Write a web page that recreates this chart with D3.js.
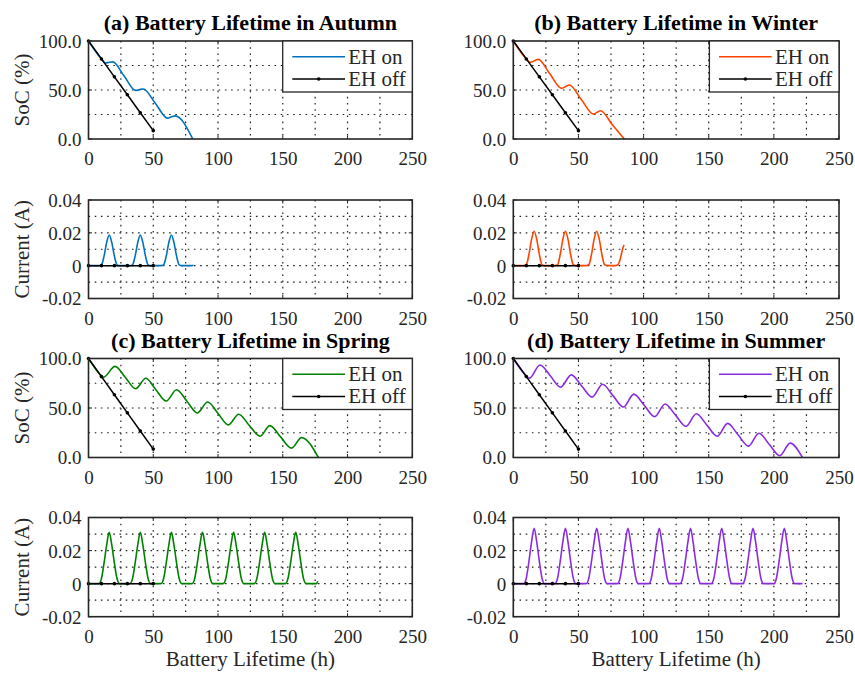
<!DOCTYPE html>
<html><head><meta charset="utf-8">
<script src="https://cdn.jsdelivr.net/npm/d3@7"></script>
<style>body{margin:0;background:#fff}svg{display:block}text{font-family:"Liberation Serif","Tinos","Times New Roman","DejaVu Serif",serif}</style>
</head><body>
<svg id="chart" width="855" height="673"></svg>
<script>
// ---------------- data ----------------
const seasons = ["Autumn", "Winter", "Spring", "Summer"];
const panelLetters = ["(a)", "(b)", "(c)", "(d)"];
const seasonColors = ["#0072BD", "#FF4500", "#008000", "#8A2BE2"];
const legendLabels = ["EH on", "EH off"];

const xTicks = [0, 50, 100, 150, 200, 250];
const xGrid = [25, 50, 75, 100, 125, 150, 175, 200, 225];
const socTicks = [0, 50, 100];
const socTickLabels = ["0.0", "50.0", "100.0"];
const socGrid = [25, 50, 75];
const curTicks = [-0.02, 0, 0.02, 0.04];
const curTickLabels = ["-0.02", "0", "0.02", "0.04"];
const curGrid = [-0.01, 0, 0.01, 0.02, 0.03];

// EH off (same in every season)
const offHours = [0, 10, 20, 30, 40, 50];
const offSoc = [100, 81.7, 63.4, 45.1, 26.8, 8.5];
const offCurrent = [0, 0, 0, 0, 0, 0];

// SoC with EH on (key points)
const autumnSocHours = [0, 10, 13, 16, 18.8, 27.5, 36.3, 39.5, 42.3, 51.7, 61, 64, 67, 80.5];
const autumnSoc = [100, 81.7, 77.5, 78.3, 78.7, 64.2, 49.6, 50.5, 51, 36.2, 21.3, 22.6, 23.6, 0];
const winterSocHours = [0, 10, 12.8, 19.2, 28, 37.1, 43, 52.2, 61.4, 67, 76, 85.2];
const winterSoc = [100, 81.7, 78.2, 81.3, 66.5, 51.7, 55.1, 40.3, 25.5, 28.9, 14.5, 0];
const springSocHours = [0, 8, 11.5, 20.5, 28.5, 36.4, 44.2, 52, 60, 68, 76, 84, 92, 100, 108, 116, 124, 132.5, 140, 148.3, 156.7, 164.5, 177.5];
const springSoc = [100, 85.4, 81, 92, 80.8, 69.5, 80, 68.5, 57, 68.5, 56.8, 45, 56, 44.5, 33, 43.7, 32.6, 21.5, 32.2, 20.8, 9.5, 20.1, 0];
const summerSocHours = [0, 8, 12.3, 20.5, 28.5, 36.3, 44.5, 52.5, 60.5, 68.5, 76.5, 84.5, 92.5, 100.5, 108.5, 116.5, 124.5, 132.5, 140.5, 148.5, 156.5, 164.5, 172.5, 180.5, 188.5, 196.5, 204.5, 212.5, 222];
const summerSoc = [100, 85.4, 80, 93.5, 82.3, 71, 83.5, 72.3, 61, 74, 62.5, 51, 64, 52.7, 41.3, 54, 42.8, 31.5, 44.2, 32.9, 21.5, 34.5, 23, 11.5, 24.5, 13.2, 1.8, 14.5, 0];

// Harvested current with EH on, sampled every 2 h
const currentHours = [0,2,4,6,8,10,12,14,16,18,20,22,24,26,28,30,32,34,36,38,40,42,44,46,48,50,52,54,56,58,60,62,64,66,68,70,72,74,76,78,80,82,84,86,88,90,92,94,96,98,100,102,104,106,108,110,112,114,116,118,120,122,124,126,128,130,132,134,136,138,140,142,144,146,148,150,152,154,156,158,160,162,164,166,168,170,172,174,176,178,180,182,184,186,188,190,192,194,196,198,200,202,204,206,208,210,212,214,216,218,220,222];
const autumnCurrent = [
 0,0,0,0,0,0.0005,0.0058,0.0140,0.0187,0.0140,0.0058,0.0005,
 0,0,0,0,0,0.0005,0.0058,0.0140,0.0187,0.0140,0.0058,0.0005,
 0,0,0,0,0,0.0005,0.0058,0.0140,0.0187,0.0140,0.0058,0.0005,
 0,0,0,0,0];
const autumnCurrentEnd = [81, 0.0003];
const winterCurrent = [
 0,0,0,0,0,0.0006,0.0068,0.0160,0.0210,0.0160,0.0068,0.0006,
 0,0,0,0,0,0.0006,0.0068,0.0160,0.0210,0.0160,0.0068,0.0006,
 0,0,0,0,0,0.0006,0.0068,0.0160,0.0210,0.0160,0.0068,0.0006,
 0,0,0,0,0.0004,0.0038,0.0104];
const winterCurrentEnd = [85, 0.0126];
const springCurrent = [
 0,0,0,0,0,0.0031,0.0124,0.0233,0.0310,0.0233,0.0124,0.0031,
 0,0,0,0,0,0.0031,0.0124,0.0233,0.0310,0.0233,0.0124,0.0031,
 0,0,0,0,0,0.0031,0.0124,0.0233,0.0310,0.0233,0.0124,0.0031,
 0,0,0,0,0,0.0031,0.0124,0.0233,0.0310,0.0233,0.0124,0.0031,
 0,0,0,0,0,0.0031,0.0124,0.0233,0.0310,0.0233,0.0124,0.0031,
 0,0,0,0,0,0.0031,0.0124,0.0233,0.0310,0.0233,0.0124,0.0031,
 0,0,0,0,0,0.0031,0.0124,0.0233,0.0310,0.0233,0.0124,0.0031,
 0,0,0,0,0];
const springCurrentEnd = [177, 0.0015];
const summerCurrent = [
 0,0,0,0,0,0.0034,0.0134,0.0251,0.0335,0.0251,0.0134,0.0034,
 0,0,0,0,0,0.0034,0.0134,0.0251,0.0335,0.0251,0.0134,0.0034,
 0,0,0,0,0,0.0034,0.0134,0.0251,0.0335,0.0251,0.0134,0.0034,
 0,0,0,0,0,0.0034,0.0134,0.0251,0.0335,0.0251,0.0134,0.0034,
 0,0,0,0,0,0.0034,0.0134,0.0251,0.0335,0.0251,0.0134,0.0034,
 0,0,0,0,0,0.0034,0.0134,0.0251,0.0335,0.0251,0.0134,0.0034,
 0,0,0,0,0,0.0034,0.0134,0.0251,0.0335,0.0251,0.0134,0.0034,
 0,0,0,0,0,0.0034,0.0134,0.0251,0.0335,0.0251,0.0134,0.0034,
 0,0,0,0,0,0.0034,0.0134,0.0251,0.0335,0.0251,0.0134,0.0034,
 0,0,0,0];
const summerCurrentEnd = [222, 0];

// ---------------- layout ----------------
const socHoursAll = [autumnSocHours, winterSocHours, springSocHours, summerSocHours];
const socAll = [autumnSoc, winterSoc, springSoc, summerSoc];
const curAll = [autumnCurrent, winterCurrent, springCurrent, summerCurrent];
const curEndAll = [autumnCurrentEnd, winterCurrentEnd, springCurrentEnd, summerCurrentEnd];

const cols = [[88.5, 412.3], [513.3, 839]];
const socRows = [[41, 139], [358.5, 457.5]];
const curRows = [[200, 298.5], [517.5, 616.7]];
const FONT = "Liberation Serif, Tinos, Times New Roman, DejaVu Serif, serif";
const AX = "#262626";

const svg = d3.select("#chart");

function makeAxes(g, x, y, yTicks, yLabels, yGrid, x0, x1, y0, y1) {
  const grid = g.append("g").attr("stroke", "#222").attr("stroke-width", 1.2)
    .attr("stroke-dasharray", "1.6 4.6");
  xGrid.forEach(v => grid.append("line").attr("x1", x(v)).attr("x2", x(v)).attr("y1", y0).attr("y2", y1));
  yGrid.forEach(v => grid.append("line").attr("x1", x0).attr("x2", x1).attr("y1", y(v)).attr("y2", y(v)));
  const xa = g.append("g").attr("transform", `translate(0,${y1})`)
    .call(d3.axisBottom(x).tickValues(xTicks).tickSize(0).tickPadding(0).tickFormat(d3.format("d")));
  xa.attr("font-family", FONT);
  xa.select(".domain").remove();
  xa.selectAll("text").attr("font-family", FONT).attr("font-size", 19).attr("fill", AX)
    .attr("dy", null).attr("y", 26);
  const ya = g.append("g").attr("transform", `translate(${x0},0)`)
    .call(d3.axisLeft(y).tickValues(yTicks).tickSize(0).tickPadding(7).tickFormat((d, i) => yLabels[i]));
  ya.attr("font-family", FONT);
  ya.select(".domain").remove();
  ya.selectAll("text").attr("font-family", FONT).attr("font-size", 19).attr("fill", AX).attr("dy", "0.34em");
  const tk = g.append("g").attr("stroke", AX).attr("stroke-width", 1);
  xTicks.forEach(v => {
    tk.append("line").attr("x1", x(v)).attr("x2", x(v)).attr("y1", y1).attr("y2", y1 - 3.5);
    tk.append("line").attr("x1", x(v)).attr("x2", x(v)).attr("y1", y0).attr("y2", y0 + 3.5);
  });
  yTicks.forEach(v => {
    tk.append("line").attr("x1", x0).attr("x2", x0 + 3.5).attr("y1", y(v)).attr("y2", y(v));
    tk.append("line").attr("x1", x1).attr("x2", x1 - 3.5).attr("y1", y(v)).attr("y2", y(v));
  });
}

function frame(g, x0, x1, y0, y1) {
  g.append("rect").attr("x", x0).attr("y", y0).attr("width", x1 - x0).attr("height", y1 - y0)
    .attr("fill", "none").attr("stroke", AX).attr("stroke-width", 1.6);
}

seasons.forEach((season, i) => {
  const col = cols[i % 2];
  const row = Math.floor(i / 2);
  const [x0, x1] = col;
  const color = seasonColors[i];
  const x = d3.scaleLinear().domain([0, 250]).range([x0, x1]);

  // ---------- SoC panel ----------
  const [sy0, sy1] = socRows[row];
  const ys = d3.scaleLinear().domain([0, 100]).range([sy1, sy0]);
  const gs = svg.append("g");
  makeAxes(gs, x, ys, socTicks, socTickLabels, socGrid, x0, x1, sy0, sy1);
  const socOn = socHoursAll[i].map((h, k) => [h, socAll[i][k]]);
  const socOff = offHours.map((h, k) => [h, offSoc[k]]);
  const lineS = d3.line().x(d => x(d[0])).y(d => ys(d[1])).curve(d3.curveMonotoneX);
  gs.append("path").attr("d", lineS(socOn)).attr("fill", "none").attr("stroke", color).attr("stroke-width", 1.6);
  gs.append("path").attr("d", d3.line().x(d => x(d[0])).y(d => ys(d[1]))(socOff))
    .attr("fill", "none").attr("stroke", "#000").attr("stroke-width", 1.5);
  gs.selectAll(".mk").data(socOff).enter().append("circle")
    .attr("cx", d => x(d[0])).attr("cy", d => ys(d[1])).attr("r", 1.8).attr("fill", "#000");
  frame(gs, x0, x1, sy0, sy1);
  gs.append("text").attr("x", (x0 + x1) / 2).attr("y", sy0 - 11).attr("text-anchor", "middle")
    .attr("font-family", FONT).attr("font-weight", "bold").attr("font-size", 22).attr("fill", "#000")
    .text(`${panelLetters[i]} Battery Lifetime in ${season}`);
  const lx = x1 - 129.6, ly = sy0;
  const lg = gs.append("g");
  lg.append("rect").attr("x", lx).attr("y", ly).attr("width", 129.6).attr("height", 51)
    .attr("fill", "#fff").attr("stroke", AX).attr("stroke-width", 1.3);
  lg.append("line").attr("x1", lx + 9.6).attr("x2", lx + 62.3).attr("y1", ly + 15.7).attr("y2", ly + 15.7)
    .attr("stroke", color).attr("stroke-width", 1.6);
  lg.append("line").attr("x1", lx + 9.6).attr("x2", lx + 62.3).attr("y1", ly + 38).attr("y2", ly + 38)
    .attr("stroke", "#000").attr("stroke-width", 1.5);
  lg.append("circle").attr("cx", lx + 36).attr("cy", ly + 38).attr("r", 1.8).attr("fill", "#000");
  legendLabels.forEach((t, k) => lg.append("text").attr("x", lx + 65.6).attr("y", ly + 22.5 + k * 22.3)
    .attr("font-family", FONT).attr("font-size", 21).attr("fill", AX).text(t));
  if (i % 2 === 0) {
    gs.append("text").attr("transform", `translate(28.5,${(sy0 + sy1) / 2}) rotate(-90)`)
      .attr("text-anchor", "middle").attr("font-family", FONT).attr("font-size", 21).attr("fill", AX)
      .text("SoC (%)");
  }

  // ---------- Current panel ----------
  const [cy0, cy1] = curRows[row];
  const yc = d3.scaleLinear().domain([-0.02, 0.04]).range([cy1, cy0]);
  const gc = svg.append("g");
  makeAxes(gc, x, yc, curTicks, curTickLabels, curGrid, x0, x1, cy0, cy1);
  const curOn = curAll[i].map((v, k) => [currentHours[k], v]);
  if (curOn[curOn.length - 1][0] < curEndAll[i][0]) curOn.push(curEndAll[i]);
  const curOff = offHours.map((h, k) => [h, offCurrent[k]]);
  const lineC = d3.line().x(d => x(d[0])).y(d => yc(d[1])).curve(d3.curveMonotoneX);
  gc.append("path").attr("d", lineC(curOn)).attr("fill", "none").attr("stroke", color).attr("stroke-width", 1.6);
  gc.append("path").attr("d", d3.line().x(d => x(d[0])).y(d => yc(d[1]))(curOff))
    .attr("fill", "none").attr("stroke", "#000").attr("stroke-width", 1.5);
  gc.selectAll(".mk").data(curOff).enter().append("circle")
    .attr("cx", d => x(d[0])).attr("cy", d => yc(d[1])).attr("r", 1.8).attr("fill", "#000");
  frame(gc, x0, x1, cy0, cy1);
  if (i % 2 === 0) {
    gc.append("text").attr("transform", `translate(29,${(cy0 + cy1) / 2}) rotate(-90)`)
      .attr("text-anchor", "middle").attr("font-family", FONT).attr("font-size", 21).attr("fill", AX)
      .text("Current (A)");
  }
  if (row === 1) {
    gc.append("text").attr("x", (x0 + x1) / 2).attr("y", 666).attr("text-anchor", "middle")
      .attr("font-family", FONT).attr("font-size", 21).attr("fill", AX).text("Battery Lifetime (h)");
  }
});
</script>
</body></html>
